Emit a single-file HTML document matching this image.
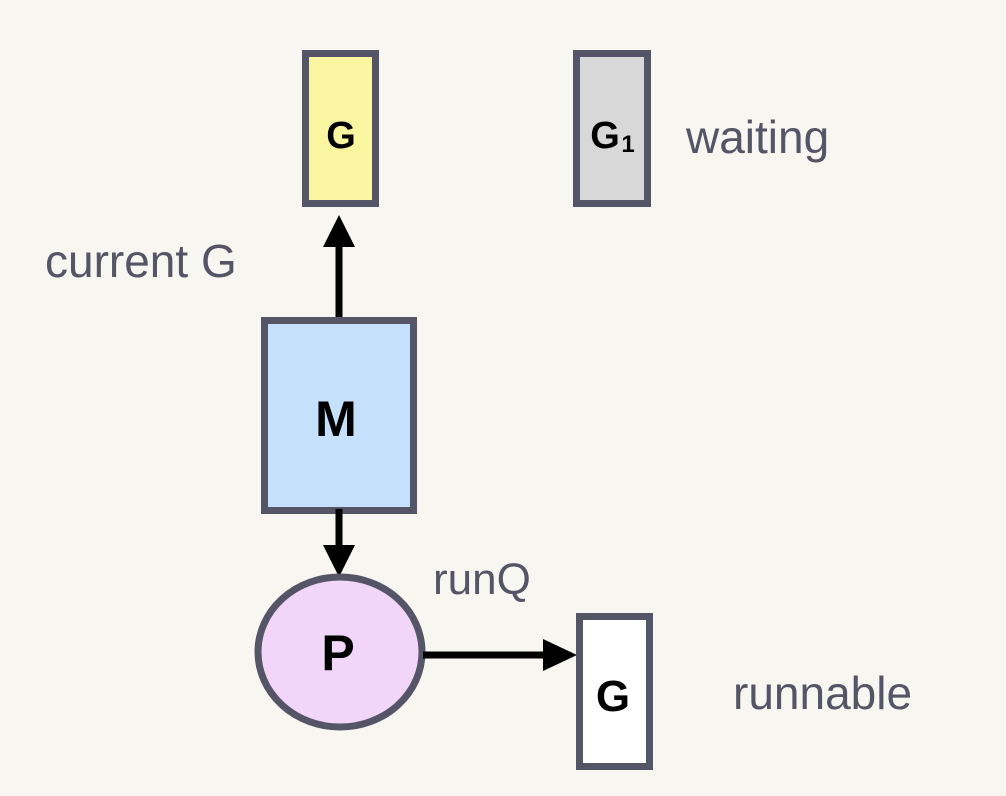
<!DOCTYPE html>
<html><head><meta charset="utf-8"><style>
html,body{margin:0;padding:0;background:#f8f6f1;}
svg{display:block}
text{font-family:"Liberation Sans",sans-serif;}
</style></head><body>
<svg width="1006" height="796" viewBox="0 0 1006 796" xmlns="http://www.w3.org/2000/svg">
<rect width="1006" height="796" fill="#f8f6f1"/>
<!-- G yellow -->
<rect x="305.5" y="53.5" width="70" height="150" fill="#f9f5a1" stroke="#545566" stroke-width="7"/>
<text x="341" y="148" font-size="38" font-weight="bold" text-anchor="middle" fill="#000">G</text>
<!-- G1 gray -->
<rect x="576.5" y="53.5" width="71" height="150" fill="#d8d8d8" stroke="#545566" stroke-width="7"/>
<text x="605" y="148" font-size="38" font-weight="bold" text-anchor="middle" fill="#000">G</text>
<text x="628" y="152" font-size="24" font-weight="bold" text-anchor="middle" fill="#000">1</text>
<text x="686" y="153" font-size="46" fill="#545566">waiting</text>
<text x="45" y="277" font-size="46" fill="#545566">current G</text>
<!-- arrow up -->
<line x1="339" y1="322" x2="339" y2="244" stroke="#000" stroke-width="7"/>
<polygon points="339,215 323,247 355,247" fill="#000"/>
<!-- M -->
<rect x="264.5" y="320.5" width="149" height="190" fill="#c4e0fb" stroke="#545566" stroke-width="7"/>
<text x="336" y="436" font-size="50" font-weight="bold" text-anchor="middle" fill="#000">M</text>
<!-- arrow down -->
<line x1="339" y1="509" x2="339" y2="548" stroke="#000" stroke-width="7"/>
<polygon points="339,577 323,545 355,545" fill="#000"/>
<!-- P -->
<ellipse cx="340" cy="652" rx="82" ry="75" fill="#f1d6f9" stroke="#545566" stroke-width="7"/>
<text x="338" y="670" font-size="50" font-weight="bold" text-anchor="middle" fill="#000">P</text>
<text x="433" y="594" font-size="44" fill="#545566">runQ</text>
<!-- arrow right -->
<line x1="423" y1="655" x2="548" y2="655" stroke="#000" stroke-width="7"/>
<polygon points="577,655 543,639 543,671" fill="#000"/>
<!-- G white -->
<rect x="579.5" y="616.5" width="70" height="150" fill="#ffffff" stroke="#545566" stroke-width="7"/>
<text x="613" y="711" font-size="44" font-weight="bold" text-anchor="middle" fill="#000">G</text>
<text x="733" y="709" font-size="46" fill="#545566">runnable</text>
</svg>
</body></html>
